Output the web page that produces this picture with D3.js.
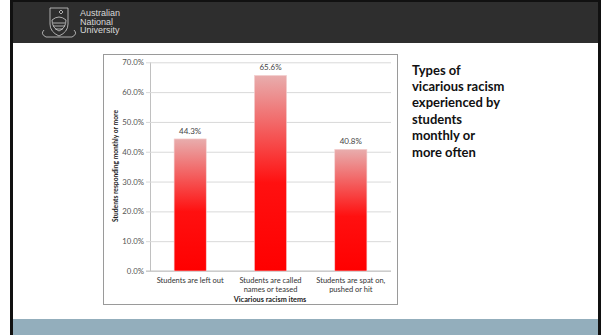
<!DOCTYPE html>
<html><head><meta charset="utf-8">
<script src="https://cdn.jsdelivr.net/npm/d3@7"></script>
<style>body{margin:0;background:#fff;}svg{display:block;}</style>
</head><body>
<svg id="c" width="604" height="335"></svg>
<script>
const categories = [["Students are left out"], ["Students are called", "names or teased"], ["Students are spat on,", "pushed or hit"]];
const values = [44.3, 65.6, 40.8];
const yTicks = [0, 10, 20, 30, 40, 50, 60, 70];
const titleLines = ["Types of", "vicarious racism", "experienced by", "students", "monthly or", "more often"];
const logoLines = ["Australian", "National", "University"];

const svg = d3.select("#c");
const font = "Lato, 'Open Sans', sans-serif";

// slide frame
svg.append("rect").attr("x", 10).attr("y", 0).attr("width", 591).attr("height", 335).attr("fill", "#111");
svg.append("rect").attr("x", 13).attr("y", 2).attr("width", 585).attr("height", 333).attr("fill", "#fff");
svg.append("rect").attr("x", 13).attr("y", 2).attr("width", 585).attr("height", 41).attr("fill", "#2e2e2e");
svg.append("rect").attr("x", 13).attr("y", 319).attr("width", 585).attr("height", 16).attr("fill", "#93aebc");

// logo
const lg = svg.append("g").attr("stroke", "#cfcfcf").attr("fill", "none").attr("stroke-width", 0.8);
lg.append("path").attr("d", "M50,8 H68 V24 Q68,32 59,36 Q50,32 50,24 Z");
lg.append("path").attr("d", "M52,20 Q59,14 66,20 Q66,28 59,31 Q52,28 52,20 Z");
lg.append("path").attr("d", "M53,23 H65 M53,26 H65 M55,29 H63");
lg.append("path").attr("d", "M44,30 Q40,34 46,37 H72 Q78,34 74,30");
lg.append("path").attr("d", "M61,10 l2,2 l-2,2 l-2,-2 Z");
svg.append("g").selectAll("text").data(logoLines).join("text")
  .attr("x", 80).attr("y", (d, i) => 16 + i * 8.5)
  .attr("font-family", "'Liberation Sans', Arial, sans-serif").attr("font-size", 9)
  .attr("fill", "#d8d8d8").text(d => d);

// chart box
svg.append("rect").attr("x", 103.5).attr("y", 54.5).attr("width", 294).attr("height", 250)
  .attr("fill", "#fff").attr("stroke", "#9a9a9a").attr("stroke-width", 1);

const x = d3.scaleBand().domain(d3.range(categories.length)).range([150, 391]).paddingInner(0.6).paddingOuter(0.3);
const y = d3.scaleLinear().domain([0, 70]).range([271, 62.3]);

const defs = svg.append("defs");
const grad = defs.append("linearGradient").attr("id", "bg").attr("x1", 0).attr("y1", 0).attr("x2", 0).attr("y2", 1);
grad.append("stop").attr("offset", 0).attr("stop-color", "#e8adad");
grad.append("stop").attr("offset", 0.55).attr("stop-color", "#ff1010");
grad.append("stop").attr("offset", 1).attr("stop-color", "#ff0000");

// gridlines + y axis
const yAxis = d3.axisLeft(y).tickValues(yTicks).tickSize(-241).tickPadding(6).tickFormat(d => d.toFixed(1) + "%");
const ga = svg.append("g").attr("transform", "translate(150,0)").call(yAxis);
ga.select(".domain").attr("stroke", "#c0c0c0").attr("d", "M0.5,62.3V271");
ga.selectAll(".tick line").attr("stroke", "#d9d9d9").attr("x1", -4);
ga.selectAll(".tick text").attr("font-family", font).attr("font-size", 7.8).attr("fill", "#555").attr("x", -6);

// x axis line
svg.append("line").attr("x1", 146).attr("x2", 391).attr("y1", y(0)).attr("y2", y(0)).attr("stroke", "#c0c0c0");

// bars
svg.append("g").selectAll("rect").data(values).join("rect")
  .attr("x", (d, i) => x(i)).attr("width", x.bandwidth())
  .attr("y", d => y(d)).attr("height", d => y(0) - y(d))
  .attr("fill", "url(#bg)").attr("stroke", "#f4d0d0").attr("stroke-width", 0.6);

// value labels
svg.append("g").selectAll("text").data(values).join("text")
  .attr("x", (d, i) => x(i) + x.bandwidth() / 2).attr("y", d => y(d) - 5)
  .attr("text-anchor", "middle").attr("font-family", font).attr("font-size", 8)
  .attr("fill", "#444").text(d => d.toFixed(1) + "%");

// category labels
const cg = svg.append("g");
categories.forEach((lines, i) => {
  lines.forEach((l, j) => {
    cg.append("text").attr("x", x(i) + x.bandwidth() / 2).attr("y", 282.5 + j * 9)
      .attr("text-anchor", "middle").attr("font-family", font).attr("font-size", 7.5)
      .attr("fill", "#333").text(l);
  });
});

// axis titles
svg.append("text").attr("x", 270).attr("y", 301.5).attr("text-anchor", "middle")
  .attr("font-family", font).attr("font-size", 7.3).attr("font-weight", "bold").attr("fill", "#222")
  .text("Vicarious racism items");
svg.append("text").attr("transform", "translate(118,166) rotate(-90)").attr("text-anchor", "middle")
  .attr("font-family", font).attr("font-size", 6.7).attr("font-weight", "bold").attr("fill", "#222")
  .text("Students responding monthly or more");

// side title
svg.append("g").selectAll("text").data(titleLines).join("text")
  .attr("x", 412).attr("y", (d, i) => 74.5 + i * 16.4)
  .attr("font-family", font).attr("font-size", 13).attr("font-weight", "bold").attr("fill", "#111")
  .text(d => d);
</script>
</body></html>
